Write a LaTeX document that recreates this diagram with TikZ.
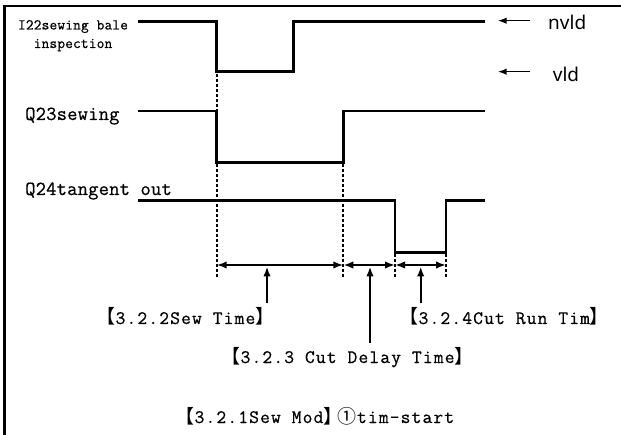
\documentclass[tikz,border=0pt]{standalone}
\usepackage{fontspec}
\newfontfamily\simtt{Latin Modern Mono}[FakeBold=0.6,LetterSpace=1]
\newfontfamily\simttw{Latin Modern Mono}[FakeBold=0.6,LetterSpace=6]
\newfontfamily\cjkf{Noto Sans CJK SC}
\newfontfamily\uisans{Noto Sans}
\usetikzlibrary{arrows.meta}
\newcommand\mylb{{\cjkf\kern-0.4em【}}
\newcommand\myrb{{\cjkf 】\kern-0.4em}}
\begin{document}
\begin{tikzpicture}[x=1pt,y=-1pt,
  frame/.style={line width=2.3pt, line join=miter},
  sig/.style={line width=2.5pt, line join=miter},
  guide/.style={line width=1.8pt, dash pattern=on 3pt off 2pt},
  dim/.style={line width=2.2pt, {Latex[length=10pt,width=7.5pt]}-{Latex[length=10pt,width=7.5pt]}},
  ptr/.style={line width=2.2pt, -{Latex[length=10pt,width=7.5pt]}},
  lvl/.style={line width=1.6pt, -{Latex[length=9pt,width=6.5pt]}},
  sml/.style={font=\simtt\fontsize{15}{18}\selectfont, inner sep=0pt, anchor=base},
  lab/.style={font=\simtt\fontsize{20}{24}\selectfont, inner sep=0pt, anchor=base west},
  note/.style={font=\simttw\fontsize{19}{23}\selectfont, inner sep=0pt, anchor=base west},
  lvltext/.style={font=\uisans\fontsize{19}{23}\selectfont, inner sep=0pt, anchor=base west}
]
\useasboundingbox (0,0) rectangle (621,435);
% frame
\draw[frame] (4.5,435) -- (4.5,5.8) -- (621,5.8);

% signal labels
\node[sml] (i22a) at (73,29.5) {I22sewing bale};
\node[sml] (i22b) at (73,48) {inspection};
\node[lab] (q23) at (25,120) {Q23sewing};
\node[lab] (q24) at (25,195) {Q24tangent out};

% waveforms
\draw[sig] (138,21.3) -- (216.7,21.3) -- (216.7,71.7) -- (293.3,71.7) -- (293.3,21.3) -- (485,21.3);
\draw[sig] (138,111) -- (216.7,111) -- (216.7,162.3) -- (343.3,162.3) -- (343.3,111) -- (485,111);
\draw[sig] (138,200.7) -- (395,200.7) -- (395,252.3) -- (446,252.3) -- (446,200.7) -- (485,200.7);

% level markers
\coordinate (nv1) at (530,20.7);
\coordinate (nv2) at (497.7,20.7);
\coordinate (v1) at (530,71.7);
\coordinate (v2) at (497.7,71.7);
\draw[lvl] (nv1) -- (nv2);
\draw[lvl] (v1) -- (v2);
\node[lvltext] (nvld) at (548,29.3) {nvld};
\node[lvltext] (vld) at (552.7,81.7) {vld};

% guides
\coordinate (g1t) at (216.7,74);
\coordinate (g1b) at (216.7,278);
\coordinate (g2t) at (343.3,164);
\coordinate (g2b) at (343.3,278);
\coordinate (g3t) at (395,254);
\coordinate (g3b) at (395,278);
\coordinate (g4t) at (446,254);
\coordinate (g4b) at (446,278);
\draw[guide] (g1t) -- (g1b);
\draw[guide] (g2t) -- (g2b);
\draw[guide] (g3t) -- (g3b);
\draw[guide] (g4t) -- (g4b);

% dimension arrows
\coordinate (d1) at (216.7,265);
\coordinate (d2) at (343.3,265);
\coordinate (d3) at (395,265);
\coordinate (d4) at (446,265);
\draw[dim] (d1) -- (d2);
\draw[dim] (d2) -- (d3);
\draw[dim] (d3) -- (d4);

% notes
\node[note] (sew) at (104,324) {\mylb 3.2.2Sew Time\myrb};
\node[note] (cdel) at (229,363) {\mylb 3.2.3 Cut Delay Time\myrb};
\node[note] (crun) at (407,324) {\mylb 3.2.4Cut Run Tim\myrb};
\node[note] (mode) at (183,423) {\mylb 3.2.1Sew Mod\myrb\,{\cjkf ①}tim-start};

% pointers
\coordinate (p1s) at (267,303);
\coordinate (p1e) at (267,266.5);
\coordinate (p2s) at (370,342.7);
\coordinate (p2e) at (370,266.5);
\coordinate (p3s) at (420.7,303.3);
\coordinate (p3e) at (420.7,266.5);
\draw[ptr] (p1s) -- (p1e);
\draw[ptr] (p2s) -- (p2e);
\draw[ptr] (p3s) -- (p3e);
\end{tikzpicture}
\end{document}
